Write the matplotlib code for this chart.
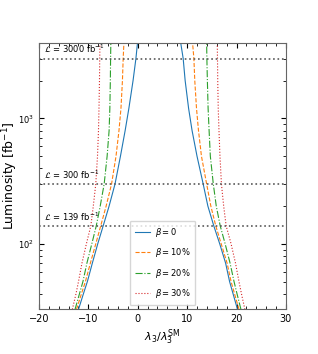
import matplotlib
matplotlib.use("Agg")
import matplotlib.pyplot as plt
from matplotlib.ticker import MultipleLocator

lumi = [30, 40, 50, 70, 100, 139, 200, 300, 500, 800, 1200, 2000, 3000, 4000]

blue_left = [-12.0, -11.0, -10.2, -9.2, -8.1, -7.0, -5.8, -4.6, -3.5, -2.55, -1.8, -0.95, -0.37, -0.05]
blue_right = [20.2, 19.3, 18.6, 17.8, 16.6, 15.4, 14.2, 13.25, 12.0, 11.0, 10.3, 9.6, 9.2, 8.7]
orange_left = [-12.4, -11.4, -10.6, -9.6, -8.5, -7.5, -6.4, -5.3, -4.4, -3.8, -3.4, -3.1, -2.95, -2.8]
orange_right = [20.5, 19.6, 18.9, 18.1, 16.9, 15.8, 14.8, 13.95, 12.9, 12.3, 11.9, 11.55, 11.37, 11.1]
green_left = [-12.7, -11.8, -11.1, -10.3, -9.3, -8.4, -7.6, -6.8, -6.2, -5.8, -5.65, -5.55, -5.5, -5.45]
green_right = [20.9, 20.1, 19.5, 18.7, 17.7, 16.7, 15.9, 15.3, 14.7, 14.45, 14.25, 14.1, 14.0, 13.95]
red_left = [-13.25, -12.5, -12.0, -11.3, -10.4, -9.5, -9.0, -8.5, -8.15, -7.95, -7.85, -7.75, -7.7, -7.65]
red_right = [21.7, 21.0, 20.5, 19.8, 18.9, 17.9, 17.4, 16.95, 16.65, 16.45, 16.3, 16.2, 16.15, 16.1]

labels = [r"$\beta = 0$", r"$\beta = 10\%$", r"$\beta = 20\%$", r"$\beta = 30\%$"]
ref_lumi = [3000, 300, 139]
ref_labels = [r"$\mathcal{L}$ = 3000 fb$^{-1}$", r"$\mathcal{L}$ = 300 fb$^{-1}$", r"$\mathcal{L}$ = 139 fb$^{-1}$"]

fig = plt.figure(figsize=(3.18, 3.54), dpi=100)
ax = fig.add_axes([0.1226, 0.126, 0.7764, 0.753])

series = [(blue_left, blue_right, "C0", "-"),
          (orange_left, orange_right, "C1", "--"),
          (green_left, green_right, "C2", "-."),
          (red_left, red_right, "C3", ":")]
for (l, r, c, ls), lab in zip(series, labels):
    ax.plot(l, lumi, color=c, ls=ls, lw=0.8, label=lab)
    ax.plot(r, lumi, color=c, ls=ls, lw=0.8)

for L, t in zip(ref_lumi, ref_labels):
    ax.axhline(L, color="0.35", ls=":", lw=1.2)
    ax.text(-19, L * 1.06, t, fontsize=6, va="bottom", ha="left")

ax.set_yscale("log")
ax.set_xlim(-20, 30)
ax.set_ylim(30, 4000)
ax.xaxis.set_major_locator(MultipleLocator(10))
ax.xaxis.set_minor_locator(MultipleLocator(2))
ax.tick_params(which="both", direction="in", top=True, right=True)
ax.tick_params(axis="x", labelsize=7)
ax.tick_params(axis="y", labelsize=6)
ax.tick_params(which="major", length=3.5)
ax.tick_params(which="minor", length=2)
for s in ax.spines.values():
    s.set_color("0.4")
ax.set_xlabel(r"$\lambda_3/\lambda_3^{\rm SM}$", fontsize=8, labelpad=2)
ax.set_ylabel(r"Luminosity [fb$^{-1}$]", fontsize=9)
ax.yaxis.set_label_coords(-0.075, 0.5)
ax.legend(loc="lower center", fontsize=6, handlelength=1.8, handletextpad=0.6,
          borderpad=0.6, labelspacing=0.9)

fig.savefig("out.png", dpi=100)
